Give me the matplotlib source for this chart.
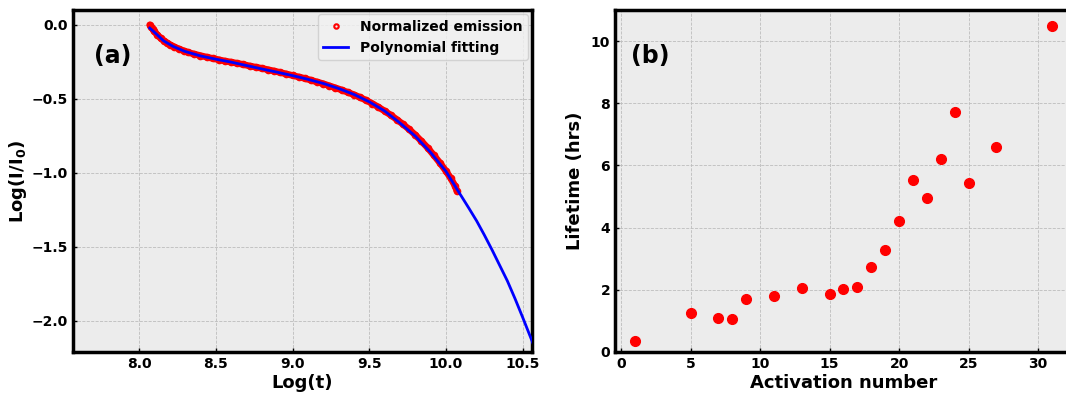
import matplotlib
matplotlib.use("Agg")
import matplotlib.pyplot as plt

plt.rcParams.update({"font.size": 10, "font.weight": "bold"})

# emission decay, log-log
emission_logt = [8.07, 8.08, 8.09, 8.10, 8.12, 8.14, 8.16, 8.18, 8.20, 8.23,
                 8.26, 8.29, 8.32, 8.36, 8.40, 8.44, 8.48, 8.52, 8.56, 8.60,
                 8.64, 8.68, 8.72, 8.76, 8.80, 8.84, 8.88, 8.92, 8.96, 9.00,
                 9.04, 9.08, 9.12, 9.16, 9.20, 9.24, 9.28, 9.32, 9.36, 9.40,
                 9.44, 9.48, 9.52, 9.56, 9.60, 9.64, 9.68, 9.72, 9.76, 9.80,
                 9.84, 9.88, 9.92, 9.96, 10.00, 10.03, 10.06, 10.07]
emission_logi = [0.000, -0.015, -0.030, -0.045, -0.068, -0.090, -0.106, -0.120, -0.133, -0.149,
                 -0.163, -0.175, -0.186, -0.198, -0.208, -0.218, -0.227, -0.236, -0.245, -0.252,
                 -0.260, -0.268, -0.278, -0.286, -0.294, -0.303, -0.312, -0.322, -0.332, -0.342,
                 -0.352, -0.362, -0.374, -0.386, -0.398, -0.412, -0.426, -0.440, -0.456, -0.472,
                 -0.490, -0.510, -0.532, -0.556, -0.582, -0.610, -0.640, -0.672, -0.706, -0.744,
                 -0.786, -0.830, -0.880, -0.932, -0.988, -1.035, -1.090, -1.120]

fit_logt = [8.07, 8.10, 8.16, 8.22, 8.30, 8.40, 8.50, 8.60, 8.70, 8.80,
            8.90, 9.00, 9.10, 9.20, 9.30, 9.40, 9.50, 9.60, 9.70, 9.80,
            9.90, 10.00, 10.07, 10.10, 10.15, 10.20, 10.25, 10.30, 10.35, 10.40,
            10.45, 10.50, 10.57]
fit_logi = [-0.022, -0.050, -0.108, -0.145, -0.180, -0.210, -0.232, -0.252, -0.275, -0.298,
            -0.320, -0.343, -0.368, -0.396, -0.430, -0.470, -0.520, -0.582, -0.663, -0.752,
            -0.862, -0.990, -1.108, -1.157, -1.240, -1.325, -1.420, -1.520, -1.625, -1.730,
            -1.850, -1.977, -2.160]

# lifetime per activation
activation = [1, 5, 7, 8, 9, 11, 13, 15, 16, 17, 18, 19, 20, 21, 22, 23, 24, 25, 27, 31]
lifetime = [0.36, 1.26, 1.10, 1.05, 1.69, 1.81, 2.07, 1.86, 2.03, 2.10,
            2.73, 3.29, 4.20, 5.54, 4.94, 6.20, 7.72, 5.44, 6.58, 10.49]

bg = "#ececec"


def style_axes(ax):
    ax.set_facecolor(bg)
    ax.grid(True, linestyle="--", color="#bdbdbd", linewidth=0.6)
    ax.set_axisbelow(True)
    for s in ax.spines.values():
        s.set_linewidth(2.5)
        s.set_color("black")
    ax.tick_params(direction="in", length=3, width=1, labelsize=10)
    for lab in ax.get_xticklabels() + ax.get_yticklabels():
        lab.set_fontweight("bold")


fig = plt.figure(figsize=(10.66, 3.94), dpi=100)
ax1 = fig.add_axes([0.0685, 0.1066, 0.4305, 0.868])
ax2 = fig.add_axes([0.577, 0.1066, 0.4294, 0.868])

# panel (a)
ax1.plot(emission_logt, emission_logi, color="red", linewidth=4.8,
         solid_capstyle="round", zorder=2)
ax1.plot(emission_logt, emission_logi, "o", markersize=4, markerfacecolor="none",
         markeredgecolor="red", markeredgewidth=1.5, linestyle="none",
         label="Normalized emission", zorder=3)
ax1.plot(fit_logt, fit_logi, color="blue", linewidth=2, label="Polynomial fitting", zorder=4)
ax1.set_xlim(7.57, 10.56)
ax1.set_ylim(-2.21, 0.10)
ax1.set_xticks([8.0, 8.5, 9.0, 9.5, 10.0, 10.5])
ax1.set_yticks([0.0, -0.5, -1.0, -1.5, -2.0])
ax1.set_xlabel("Log(t)", fontsize=13, fontweight="bold", labelpad=2)
ax1.set_ylabel(r"Log(I/I$_0$)", fontsize=13, fontweight="bold", labelpad=2)
style_axes(ax1)
leg = ax1.legend(loc="upper right", prop={"weight": "bold", "size": 10},
                 frameon=True, fancybox=True, borderaxespad=0.3, handlelength=1.8,
                 markerscale=0.8)
leg.get_frame().set_facecolor("#f2f2f2")
leg.get_frame().set_edgecolor("#cccccc")
ax1.text(0.045, 0.845, "(a)", transform=ax1.transAxes, fontsize=17, fontweight="bold")

# panel (b)
ax2.plot(activation, lifetime, "o", color="red", markersize=7, linestyle="none")
ax2.set_xlim(-0.43, 32.5)
ax2.set_ylim(0, 11)
ax2.set_xticks([0, 5, 10, 15, 20, 25, 30])
ax2.set_yticks([0, 2, 4, 6, 8, 10])
ax2.set_xlabel("Activation number", fontsize=13, fontweight="bold", labelpad=2)
ax2.set_ylabel("Lifetime (hrs)", fontsize=13, fontweight="bold", labelpad=5)
style_axes(ax2)
ax2.text(0.035, 0.845, "(b)", transform=ax2.transAxes, fontsize=17, fontweight="bold")

fig.savefig("out.png", dpi=100)
